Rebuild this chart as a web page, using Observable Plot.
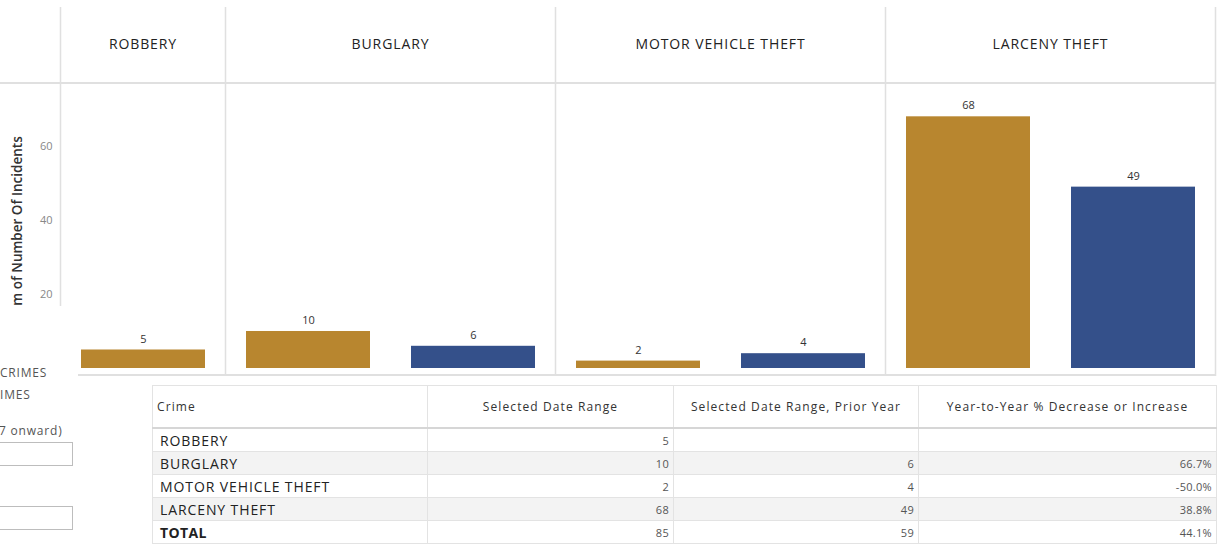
<!DOCTYPE html>
<html>
<head>
<meta charset="utf-8">
<script src="https://cdn.jsdelivr.net/npm/d3@7"></script>
<script src="https://cdn.jsdelivr.net/npm/@observablehq/plot@0.6"></script>
<style>
  html, body { margin: 0; padding: 0; background: #fff; }
  #root { position: relative; width: 1220px; height: 544px; overflow: hidden; font-family: "Open Sans", sans-serif; }
  #chart { position: absolute; left: 0; top: 0; }
  #overlay { position: absolute; left: 0; top: 306px; width: 78px; height: 238px; background: #fff; }
  #overlay .t { position: absolute; left: 0; font-size: 12px; color: #555; white-space: nowrap; letter-spacing: 0.8px; }
  #overlay .box { position: absolute; left: -2px; width: 73px; height: 22px; border: 1px solid #bdbdbd; background: #fff; }
  #tbl { position: absolute; left: 152px; top: 385px; border-collapse: collapse; table-layout: fixed; font-size: 12px; }
  #tbl td, #tbl th { border: 1px solid #e3e3e3; padding: 0 4px; white-space: nowrap; overflow: hidden; }
  #tbl th { height: 41px; font-weight: normal; font-size: 12px; letter-spacing: 1.1px; color: #333; text-align: center; border-bottom: 2px solid #d6d6d6; }
  #tbl th.first { text-align: left; }
  #tbl td { height: 22px; text-align: right; color: #555; font-size: 11px; letter-spacing: 0.3px; }
  #tbl td.name { text-align: left; color: #222; font-size: 14px; letter-spacing: 0.9px; padding-left: 7px; }
  #tbl tr.alt td { background: #f3f3f3; }
  #tbl tr.total td.name { font-weight: bold; letter-spacing: 0.4px; }
</style>
</head>
<body>
<div id="root">
  <div id="chart"></div>
  <div id="overlay">
    <div class="t" style="top:58px">CRIMES</div>
    <div class="t" style="top:80px">IMES</div>
    <div class="t" style="top:116px;left:-1px">7 onward)</div>
    <div class="box" style="top:136px"></div>
    <div class="box" style="top:200px"></div>
  </div>
  <table id="tbl"></table>
</div>
<script>
const crimes = ["ROBBERY", "BURGLARY", "MOTOR VEHICLE THEFT", "LARCENY THEFT"];
const periods = ["Selected Date Range", "Selected Date Range, Prior Year"];
const selectedValues = [5, 10, 2, 68];
const priorValues = [null, 6, 4, 49];
const yoyLabels = ["", "66.7%", "-50.0%", "38.8%"];
const totalLabel = "TOTAL";
const totalSelected = 85;
const totalPrior = 59;
const totalYoy = "44.1%";
const yTicks = [20, 40, 60];
const yLabel = "Sum of Number Of Incidents";
const tableHeaders = ["Crime", "Selected Date Range", "Selected Date Range, Prior Year", "Year-to-Year % Decrease or Increase"];
const periodColors = ["#b8862f", "#34508a"];

const bars = crimes.flatMap((c, i) => {
  const out = [{crime: c, period: periods[0], value: selectedValues[i]}];
  if (priorValues[i] != null) out.push({crime: c, period: periods[1], value: priorValues[i]});
  return out;
}).map(d => ({...d, key: d.crime + "|" + d.period}));

const plot = Plot.plot({
  width: 1220,
  height: 380,
  marginLeft: 60,
  marginRight: 4,
  marginTop: 83,
  marginBottom: 12,
  style: {fontFamily: "Open Sans, sans-serif", background: "transparent"},
  x: {domain: bars.map(d => d.key), paddingInner: 0.25, paddingOuter: 0.125, axis: null},
  y: {domain: [0, 77]},
  color: {domain: periods, range: periodColors},
  marks: [
    Plot.axisY({ticks: yTicks, tickSize: 0, tickPadding: 8, fontSize: 11, color: "#888", label: null}),
    Plot.barY(bars, {x: "key", y: "value", fill: "period"}),
    Plot.text(bars, {x: "key", y: "value", text: d => String(d.value), dy: -11, fontSize: 11, fill: "#333",
      style: {letterSpacing: "0.8px"}})
  ]
});
document.getElementById("chart").appendChild(plot);

const svg = d3.select(plot);
// Y-axis title (rotated); its start is hidden behind the filter panel, as in the dashboard
svg.append("text")
  .attr("transform", `translate(22,229) rotate(-90)`)
  .attr("text-anchor", "middle")
  .attr("font-size", 13.5).attr("font-weight", 600).attr("fill", "#333")
  .attr("font-family", "Open Sans, sans-serif")
  .text(yLabel);

// Panel separators and headers, derived from the x scale
const xs = plot.scale("x");
const pad = (xs.step - xs.bandwidth) / 2;
const deco = svg.insert("g", ":first-child");
const groups = crimes.map(c => {
  const keys = bars.filter(b => b.crime === c).map(b => b.key);
  const left = xs.apply(keys[0]) - pad;
  const right = xs.apply(keys[keys.length - 1]) + xs.bandwidth + pad;
  return {crime: c, left, right};
});
const lineColor = "#e0e0e0";
const bounds = [groups[0].left, ...groups.map(g => g.right)];
bounds.forEach(x => {
  deco.append("line").attr("x1", x).attr("x2", x).attr("y1", 7).attr("y2", 376)
    .attr("stroke", lineColor).attr("stroke-width", 1.5);
});
deco.append("line").attr("x1", 0).attr("x2", groups[3].right).attr("y1", 83).attr("y2", 83)
  .attr("stroke", lineColor).attr("stroke-width", 2);
deco.append("line").attr("x1", groups[0].left).attr("x2", groups[3].right).attr("y1", 375).attr("y2", 375)
  .attr("stroke", lineColor).attr("stroke-width", 2);
groups.forEach(g => {
  svg.append("text").attr("x", (g.left + g.right) / 2).attr("y", 45)
    .attr("text-anchor", "middle").attr("dominant-baseline", "middle")
    .attr("font-size", 14).attr("fill", "#222").attr("font-family", "Open Sans, sans-serif")
    .attr("letter-spacing", "0.9px")
    .text(g.crime);
});

// Table
const tbl = d3.select("#tbl");
const colWidths = [275, 246, 245, 298];
const cg = tbl.append("colgroup");
colWidths.forEach(w => cg.append("col").style("width", w + "px"));
const hr = tbl.append("tr");
tableHeaders.forEach((h, i) => hr.append("th").attr("class", i === 0 ? "first" : null).text(h));
crimes.forEach((c, i) => {
  const tr = tbl.append("tr").attr("class", i % 2 ? "alt" : null);
  tr.append("td").attr("class", "name").text(c);
  tr.append("td").text(selectedValues[i]);
  tr.append("td").text(priorValues[i] == null ? "" : priorValues[i]);
  tr.append("td").text(yoyLabels[i]);
});
const tt = tbl.append("tr").attr("class", "total");
tt.append("td").attr("class", "name").text(totalLabel);
tt.append("td").text(totalSelected);
tt.append("td").text(totalPrior);
tt.append("td").text(totalYoy);
</script>
</body>
</html>
